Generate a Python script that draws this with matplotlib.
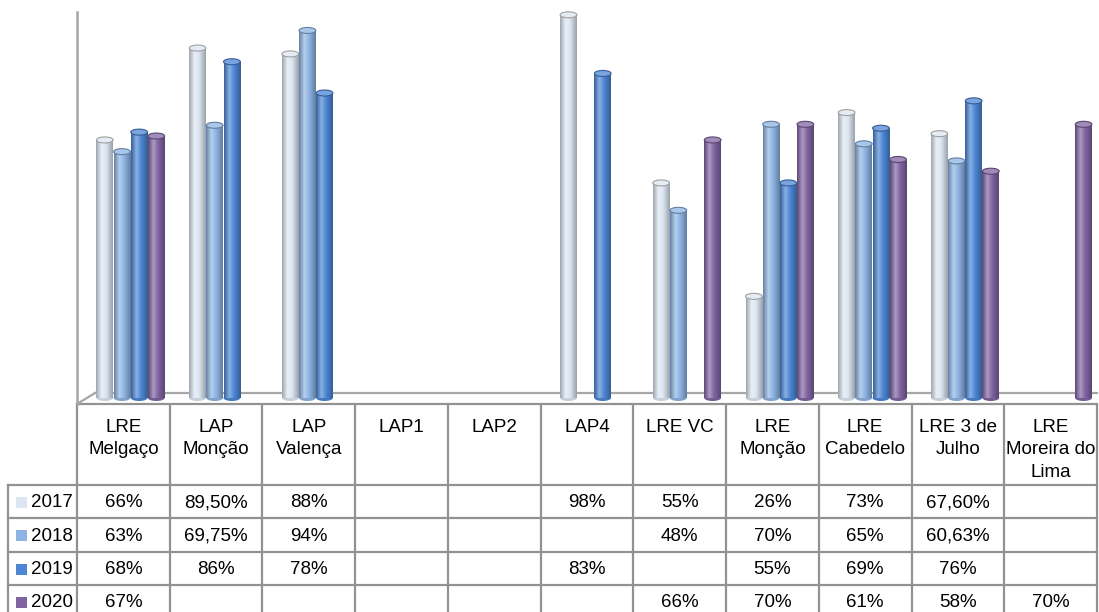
import numpy as np
import matplotlib
matplotlib.use("Agg")
import matplotlib.pyplot as plt
from matplotlib import font_manager
from matplotlib.colors import LinearSegmentedColormap, to_rgb
from matplotlib.patches import Rectangle, Ellipse

# ── DATA ───────────────────────────────────────────────────────────────────────
categories = ["LRE\nMelgaço", "LAP\nMonção", "LAP\nValença", "LAP1", "LAP2", "LAP4",
              "LRE VC", "LRE\nMonção", "LRE\nCabedelo", "LRE 3 de\nJulho",
              "LRE\nMoreira do\nLima"]
years = ["2017", "2018", "2019", "2020"]
nan = np.nan
v2017 = [66, 89.5, 88, nan, nan, 98, 55, 26, 73, 67.6, nan]
v2018 = [63, 69.75, 94, nan, nan, nan, 48, 70, 65, 60.63, nan]
v2019 = [68, 86, 78, nan, nan, 83, nan, 55, 69, 76, nan]
v2020 = [67, nan, nan, nan, nan, nan, 66, 70, 61, 58, 70]
series = [v2017, v2018, v2019, v2020]
colors = ["#DCE6F2", "#8EB4E3", "#4C86D4", "#8064A2"]

# ── LAYOUT (pixels of the 1099x612 canvas) ─────────────────────────────────────
W, H = 1099, 612
LEFT, COL0, RIGHT = 8, 77, 1097
COLW = (RIGHT - COL0) / len(categories)
TOP, HEAD_BOT, ROWH = 404, 485, 33.4
BASE_PX, PX_PER_PCT = 398, 3.91
GRID = "#929292"

# Excel used a narrow Arial here; take a narrow face if one is installed
installed = {f.name for f in font_manager.fontManager.ttflist}
if "Liberation Sans Narrow" in installed:
    FONT, FS = "Liberation Sans Narrow", 15
else:
    FONT, FS = "Liberation Sans", 13.5
plt.rcParams["font.family"] = [FONT, "DejaVu Sans"]


def fmt_pct(v):
    if np.isnan(v):
        return ""
    if float(v).is_integer():
        return f"{int(v)}%"
    return f"{v:.2f}%".replace(".", ",")


def mix(c, other, t):
    c, o = np.array(to_rgb(c)), np.array(to_rgb(other))
    return tuple(c * (1 - t) + o * t)


fig = plt.figure(figsize=(W / 100, H / 100), dpi=100)

# ── TABLE (pixel axes) ─────────────────────────────────────────────────────────
ax_t = fig.add_axes([0, 0, 1, 1], zorder=0)
ax_t.set_xlim(0, W)
ax_t.set_ylim(H, 0)
ax_t.axis("off")

col_x = [COL0 + k * COLW for k in range(len(categories) + 1)]
row_y = [HEAD_BOT + r * ROWH for r in range(len(years) + 1)]
for x in col_x:
    ax_t.plot([x, x], [TOP, H], color=GRID, lw=1.6, solid_capstyle="butt")
ax_t.plot([LEFT, LEFT], [HEAD_BOT, H], color=GRID, lw=1.6)
ax_t.plot([COL0, RIGHT], [TOP, TOP], color=GRID, lw=1.6)
for y in row_y[:-1]:
    ax_t.plot([LEFT, RIGHT], [y, y], color=GRID, lw=1.6)

for k, cat in enumerate(categories):
    ax_t.text(col_x[k] + COLW / 2, 419, cat, ha="center", va="top",
              fontsize=FS, linespacing=1.42, color="black")

for r, (yr, vals, c) in enumerate(zip(years, series, colors)):
    yc = row_y[r] + ROWH / 2
    ax_t.add_patch(Rectangle((16, yc - 5), 11, 11, facecolor=c, edgecolor="none"))
    ax_t.text(31, yc + 1, yr, ha="left", va="center", fontsize=FS)
    for k, v in enumerate(vals):
        ax_t.text(col_x[k] + COLW / 2, yc + 1, fmt_pct(v), ha="center",
                  va="center", fontsize=FS)

# ── BARS (3D-ish cylinders) ────────────────────────────────────────────────────
ax_h = TOP
ax = fig.add_axes([LEFT / W, 1 - ax_h / H, (RIGHT - LEFT) / W, ax_h / H],
                  zorder=1)
ax.patch.set_alpha(0)
ax.axis("off")

x0 = -(COL0 - LEFT) / COLW
ylo = -(TOP - BASE_PX) / PX_PER_PCT
yhi = BASE_PX / PX_PER_PCT

bar_w, step, first = 0.18, 0.185, 0.30
cap_h = 6 / PX_PER_PCT
grad = np.linspace(0, 1, 64)[np.newaxis, :]

for i, (vals, c) in enumerate(zip(series, colors)):
    edge = mix(c, "black", 0.3) if i else "#A0A0A0"
    cmap = LinearSegmentedColormap.from_list(
        f"cyl{i}", [(0, mix(c, "black", 0.28)), (0.32, mix(c, "white", 0.35)),
                    (0.6, c), (1, mix(c, "black", 0.3))])
    for k, v in enumerate(vals):
        if np.isnan(v):
            continue
        xl = k + first + i * step - bar_w / 2
        ax.imshow(grad, cmap=cmap, extent=[xl, xl + bar_w, 0, v],
                  aspect="auto", zorder=2 + i * 0.01, interpolation="bilinear")
        ax.add_patch(Ellipse((xl + bar_w / 2, 0), bar_w, cap_h,
                             facecolor=mix(c, "black", 0.1), edgecolor="none",
                             zorder=1.9))
        ax.add_patch(Ellipse((xl + bar_w / 2, v), bar_w, cap_h,
                             facecolor=mix(c, "white", 0.25), edgecolor=edge,
                             lw=0.8, zorder=2.5 + i * 0.01))

# floor and value axis
floor_back = (BASE_PX - 393) / PX_PER_PCT
ax.plot([0, 0], [ylo, (BASE_PX - 12) / PX_PER_PCT], color="#A6A6A6", lw=1.8,
        clip_on=False, zorder=1)
ax.plot([0, 18 / COLW], [ylo, floor_back], color="#A6A6A6", lw=1.6,
        clip_on=False, zorder=1)
ax.plot([18 / COLW, len(categories)], [floor_back, floor_back], color="#A6A6A6",
        lw=1.6, clip_on=False, zorder=1)

ax.set_xlim(x0, len(categories))
ax.set_ylim(ylo, yhi)

fig.savefig("out.png", dpi=100)
